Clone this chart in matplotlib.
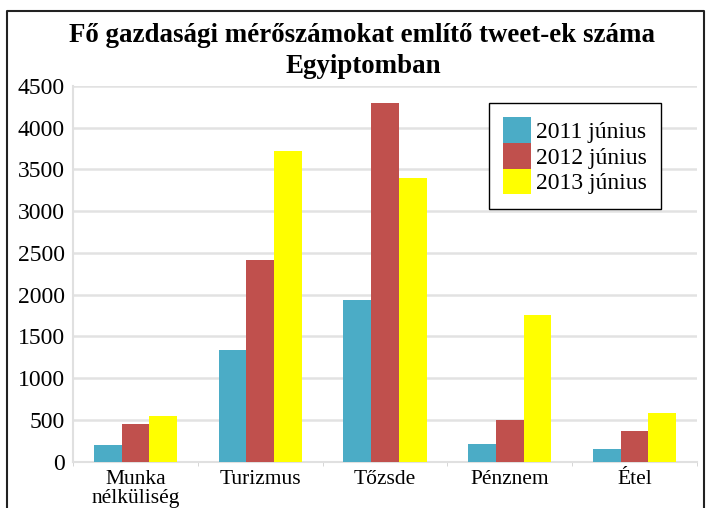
import numpy as np
import matplotlib.pyplot as plt
from matplotlib.lines import Line2D

plt.rcParams['font.family'] = ['Liberation Serif', 'DejaVu Serif']

categories = ['Munka\nnélküliség', 'Turizmus', 'Tőzsde', 'Pénznem', 'Étel']
series_names = ['2011 június', '2012 június', '2013 június']
v2011 = [195, 1340, 1940, 215, 145]
v2012 = [455, 2420, 4300, 495, 360]
v2013 = [550, 3720, 3400, 1750, 585]
yticks = [0, 500, 1000, 1500, 2000, 2500, 3000, 3500, 4000, 4500]
colors = ['#4bacc6', '#c0504d', '#ffff00']

W, H = 711, 508
fig = plt.figure(figsize=(W / 100, H / 100), dpi=100)
ax = fig.add_axes([73 / W, 1 - 461.5 / H, 624 / W, 375.5 / H])

x = np.arange(len(categories))
bw = 0.222
for i, (vals, name) in enumerate(zip([v2011, v2012, v2013], series_names)):
    ax.bar(x + (i - 1) * bw, vals, bw, color=colors[i], label=name, zorder=3)

ax.set_xlim(-0.5, len(categories) - 0.5)
ax.set_ylim(0, 4500)
ax.set_yticks(yticks)
ax.set_yticklabels([str(t) for t in yticks])
ax.set_xticks(x)
ax.set_xticklabels(categories, linespacing=1.0)
ax.set_xticks(np.arange(len(categories) + 1) - 0.5, minor=True)
ax.tick_params(axis='x', which='major', length=0, pad=6, labelsize=15.5)
ax.tick_params(axis='x', which='minor', length=3, color='#d0d0d0')
ax.tick_params(axis='y', length=0, pad=6, labelsize=17)
ax.yaxis.grid(True, color='#e2e2e2', linewidth=1.8, zorder=0)
ax.set_axisbelow(True)
for s in ['top', 'right']:
    ax.spines[s].set_visible(False)
ax.spines['left'].set_color('#e0e0e0')
ax.spines['bottom'].set_color('#e0e0e0')
ax.spines['left'].set_linewidth(1.5)
ax.spines['bottom'].set_linewidth(1.5)

leg = ax.legend(loc='upper left', bbox_to_anchor=(0.667, 0.955), borderaxespad=0,
                fontsize=17, frameon=True, fancybox=False, shadow=False,
                labelspacing=0, handleheight=1.3, handlelength=1.15,
                handletextpad=0.25, borderpad=0.6)
leg.get_frame().set_edgecolor('black')
leg.get_frame().set_linewidth(1.0)
leg.get_frame().set_alpha(1)

# title, two lines
fig.text(362 / W, 1 - 41.7 / H, 'Fő gazdasági mérőszámokat említő tweet-ek száma',
         ha='center', va='baseline', fontsize=19.4, fontweight='bold')
fig.text(363 / W, 1 - 73.3 / H, 'Egyiptomban',
         ha='center', va='baseline', fontsize=19.4, fontweight='bold')

# outer frame (open at the bottom)
fx = [7 / W, 7 / W, 704 / W, 704 / W]
fy = [0, 1 - 10.7 / H, 1 - 10.7 / H, 0]
fig.add_artist(Line2D(fx, fy, color='#222222', linewidth=1.5, transform=fig.transFigure))

fig.savefig('out.png', dpi=100)
